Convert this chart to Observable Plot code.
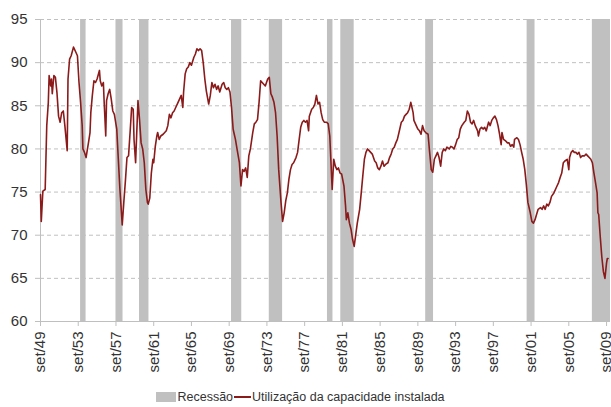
<!DOCTYPE html>
<html>
<head>
<meta charset="utf-8">
<script src="https://cdn.jsdelivr.net/npm/d3@7"></script>
<script src="https://cdn.jsdelivr.net/npm/@observablehq/plot@0.6"></script>
<style>
  html, body { margin: 0; padding: 0; background: #fff; }
  #chart { width: 611px; }
  g[aria-label="x-axis tick"], g[aria-label="y-axis tick"] { stroke: #bfbfbf; }
  .tick line { stroke: #bfbfbf; }
  #legend { width: 601px; display: flex; justify-content: center; align-items: center; font-family: "Liberation Sans", Arial, sans-serif; font-size: 12.5px; color: #333; margin-top: 9px; line-height: 16px; }
  .sw-box { width: 20px; height: 10px; background: #c0c0c0; margin-right: 1px; }
  .sw-line { width: 17px; height: 2px; background: #8b1a1a; margin: 0 1px; }
</style>
</head>
<body>
<div id="chart"></div>
<div id="legend">
  <span class="sw-box"></span><span>Recessão</span><span class="sw-line"></span><span>Utilização da capacidade instalada</span>
</div>
<script>
const dates = [
"1949-09","1949-10","1949-12","1950-03","1950-05","1950-07","1950-08","1950-10","1950-11","1950-12",
"1951-02","1951-04","1951-06","1951-08","1951-10","1951-12","1952-02","1952-04","1952-07","1952-08",
"1952-10","1952-12","1953-03","1953-06","1953-08","1953-10","1953-12","1954-02","1954-03","1954-05",
"1954-07","1954-10","1954-12","1955-01","1955-03","1955-05","1955-07","1955-09","1955-12","1956-01",
"1956-03","1956-05","1956-06","1956-08","1956-09","1956-11","1957-01","1957-03","1957-05","1957-07",
"1957-10","1957-12","1958-02","1958-04","1958-05","1958-07","1958-09","1958-11","1959-01","1959-03",
"1959-05","1959-07","1959-08","1959-10","1960-01","1960-03","1960-05","1960-07","1960-09","1960-11",
"1961-01","1961-02","1961-04","1961-06","1961-08","1961-09","1961-11","1962-01","1962-02","1962-04",
"1962-06","1962-09","1962-11","1963-01","1963-03","1963-05","1963-07","1963-09","1963-11","1964-01",
"1964-04","1964-06","1964-08","1964-10","1964-11","1965-01","1965-03","1965-05","1965-07","1965-09",
"1965-12","1966-02","1966-04","1966-06","1966-08","1966-10","1966-12","1967-02","1967-04","1967-07",
"1967-09","1967-11","1968-01","1968-03","1968-05","1968-07","1968-09","1968-12","1969-02","1969-04",
"1969-06","1969-08","1969-10","1969-12","1970-02","1970-03","1970-05","1970-07","1970-10","1970-12",
"1971-02","1971-04","1971-06","1971-08","1971-10","1971-12","1972-03","1972-05","1972-07","1972-09",
"1972-11","1973-01","1973-03","1973-05","1973-07","1973-10","1973-12","1974-02","1974-04","1974-06",
"1974-08","1974-10","1974-12","1975-03","1975-05","1975-07","1975-09","1975-11","1976-01","1976-03",
"1976-05","1976-07","1976-10","1976-12","1977-02","1977-04","1977-06","1977-08","1977-10","1977-12",
"1978-02","1978-03","1978-06","1978-08","1978-10","1978-12","1979-02","1979-04","1979-06","1979-08",
"1979-10","1980-01","1980-03","1980-05","1980-08","1980-10","1980-12","1981-02","1981-04","1981-06",
"1981-08","1981-11","1982-01","1982-02","1982-04","1982-06","1982-08","1982-10","1982-12","1983-02",
"1983-04","1983-07","1983-09","1983-11","1984-01","1984-03","1984-05","1984-07","1984-09","1984-11",
"1985-02","1985-04","1985-06","1985-08","1985-10","1985-12","1986-02","1986-04","1986-07","1986-09",
"1986-11","1987-01","1987-03","1987-05","1987-07","1987-09","1987-12","1988-02","1988-04","1988-06",
"1988-08","1988-10","1988-12","1989-01","1989-03","1989-04","1989-07","1989-09","1989-11","1990-01",
"1990-03","1990-05","1990-07","1990-10","1990-12","1991-02","1991-04","1991-06","1991-08","1991-10",
"1991-12","1992-02","1992-04","1992-06","1992-08","1992-10","1993-01","1993-03","1993-05","1993-07",
"1993-09","1993-11","1994-01","1994-03","1994-05","1994-08","1994-10","1994-12","1995-02","1995-04",
"1995-06","1995-08","1995-10","1996-01","1996-02","1996-04","1996-06","1996-08","1996-10","1996-12",
"1997-03","1997-05","1997-07","1997-09","1997-11","1998-01","1998-03","1998-05","1998-07","1998-08",
"1998-10","1999-01","1999-03","1999-05","1999-07","1999-09","1999-11","1999-12","2000-03","2000-05",
"2000-07","2000-09","2000-11","2001-01","2001-03","2001-05","2001-08","2001-10","2001-12","2002-02",
"2002-04","2002-06","2002-09","2002-11","2003-01","2003-03","2003-05","2003-07","2003-09","2003-11",
"2004-02","2004-04","2004-06","2004-08","2004-10","2004-12","2005-02","2005-04","2005-07","2005-09",
"2005-10","2005-12","2006-02","2006-04","2006-06","2006-08","2006-10","2006-12","2007-02","2007-05",
"2007-07","2007-09","2007-11","2008-01","2008-03","2008-05","2008-07","2008-09","2008-10","2008-11",
"2009-01","2009-03","2009-05","2009-07","2009-09","2009-10","2009-11"
];
const utilizacao = [
74.7,71.6,75.1,75.3,82.7,85.4,88.5,87.3,88.1,86.4,
88.5,88.3,86.5,83.8,83.1,84.2,84.4,82.7,79.8,88.1,
90.4,90.8,91.8,91.2,90.8,87.7,85.4,82.7,80.0,79.6,
79.0,80.7,81.9,84.2,86.2,87.9,87.7,88.1,89.1,87.9,
87.3,87.7,85.4,81.5,85.6,86.4,86.9,85.8,84.4,84.0,
82.3,78.8,75.3,72.6,71.2,73.8,76.3,79.0,79.2,81.9,
84.8,84.6,81.1,78.4,85.6,83.4,80.7,80.0,78.4,75.3,
73.8,73.6,74.3,77.2,78.8,78.4,80.3,81.5,81.9,81.1,
81.5,81.7,81.9,82.1,82.7,84.0,83.6,84.2,84.4,84.8,
85.4,85.8,86.2,84.8,86.6,88.7,89.3,89.5,90.0,89.7,
90.6,91.0,91.6,91.4,91.6,91.4,90.0,88.1,86.7,85.2,
86.2,87.7,87.1,87.5,86.9,87.3,86.6,87.5,87.7,87.1,
86.9,87.1,86.6,84.8,82.3,81.9,81.1,80.0,78.4,75.7,
77.6,77.4,77.8,76.7,79.2,80.0,81.9,82.9,83.1,83.4,
85.4,87.9,87.7,87.5,87.3,88.1,88.3,86.4,86.0,85.4,
84.2,81.5,77.6,73.8,71.6,72.6,74.0,74.9,76.5,77.6,
78.2,78.4,79.0,79.6,81.1,82.5,83.1,83.3,83.1,83.3,
82.1,83.8,84.6,84.8,85.2,86.2,85.2,85.4,84.2,83.4,
83.1,83.1,82.9,81.5,75.3,78.8,78.0,77.6,77.8,77.2,
77.1,75.7,73.4,71.8,72.6,71.4,70.7,69.5,68.7,70.1,
71.4,73.0,74.9,76.9,78.8,79.6,80.0,79.8,79.6,79.4,
78.6,78.4,77.8,77.6,78.0,78.6,78.0,78.2,78.4,79.0,
79.4,80.0,80.2,80.7,81.1,81.9,83.1,83.3,83.8,84.0,
84.2,84.6,85.4,85.0,84.2,83.3,82.7,82.3,82.1,81.7,
82.7,82.1,81.9,81.7,79.6,77.6,77.3,78.8,79.2,79.6,
79.0,78.0,79.6,80.0,79.8,80.2,80.0,80.3,80.2,80.0,
80.5,81.1,81.3,82.3,82.7,83.1,83.3,84.4,84.0,83.1,
82.9,83.3,82.7,82.1,81.5,82.3,82.5,82.3,82.5,82.1,
83.1,82.7,83.3,83.6,83.8,83.4,82.7,81.7,80.5,81.9,
81.1,80.9,80.7,80.7,80.3,80.5,80.2,81.1,81.3,81.1,
80.5,79.6,78.8,77.6,75.9,73.8,72.6,71.6,71.4,71.8,
72.4,73.0,73.2,73.0,73.4,73.0,73.6,73.4,73.8,74.5,
74.9,75.3,75.7,76.1,76.7,77.2,78.4,78.6,78.8,77.6,
79.0,79.6,79.8,79.6,79.6,79.4,79.6,79.0,79.2,79.2,
79.4,79.2,79.0,78.8,78.4,77.2,76.1,74.9,72.6,72.4,
69.8,67.5,65.8,65.0,66.8,67.3,67.3
];
// Recession periods (start / end month) as shaded in the chart
const recessionStart = ["1953-12","1957-09","1960-03","1969-12","1973-12","1980-02","1981-07","1990-07","2001-04","2008-03"];
const recessionEnd   = ["1954-07","1958-06","1961-03","1971-01","1975-05","1980-09","1982-12","1991-05","2002-02","2010-02"];
// Axis
const xDomain = ["1949-09", "2010-02"];
const xTickYears = [1949,1953,1957,1961,1965,1969,1973,1977,1981,1985,1989,1993,1997,2001,2005,2009];
const yTicks = [60,65,70,75,80,85,90,95];
const seriesName = "Utilização da capacidade instalada";

const parse = d3.utcParse("%Y-%m");
const series = dates.map((d, i) => ({date: parse(d), value: utilizacao[i]}));
const recessions = recessionStart.map((s, i) => ({start: parse(s), end: parse(recessionEnd[i])}));
const xTicks = xTickYears.map(y => new Date(Date.UTC(y, 8, 1)));

const chart = Plot.plot({
  width: 611,
  height: 380,
  marginLeft: 40,
  marginRight: 1,
  marginTop: 19,
  marginBottom: 59,
  style: {fontFamily: "'Liberation Sans', Arial, sans-serif", fontSize: "15px", color: "#333", background: "#fff"},
  x: {
    type: "utc",
    domain: xDomain.map(parse),
    ticks: xTicks,
    tickFormat: d => "set/" + String(d.getUTCFullYear()).slice(2),
    tickRotate: -90,
    tickSize: 5,
    tickPadding: 5,
    label: null
  },
  y: {
    domain: [60, 95],
    ticks: yTicks,
    tickSize: 5,
    tickPadding: 8,
    label: null
  },
  marks: [
    Plot.ruleY(yTicks.filter(v => v > 60), {stroke: "#c0c0c0", strokeDasharray: "4,3", strokeWidth: 1}),
    Plot.rect(recessions, {x1: "start", x2: "end", fill: "#c0c0c0"}),
    Plot.ruleY([yTicks[0]], {stroke: "#bfbfbf", strokeWidth: 1}),
    Plot.ruleX([parse(xDomain[0])], {stroke: "#bfbfbf", strokeWidth: 1}),
    Plot.line(series, {x: "date", y: "value", stroke: "#8b1a1a", strokeWidth: 1.6, title: () => seriesName})
  ]
});
document.getElementById("chart").appendChild(chart);
</script>
</body>
</html>
